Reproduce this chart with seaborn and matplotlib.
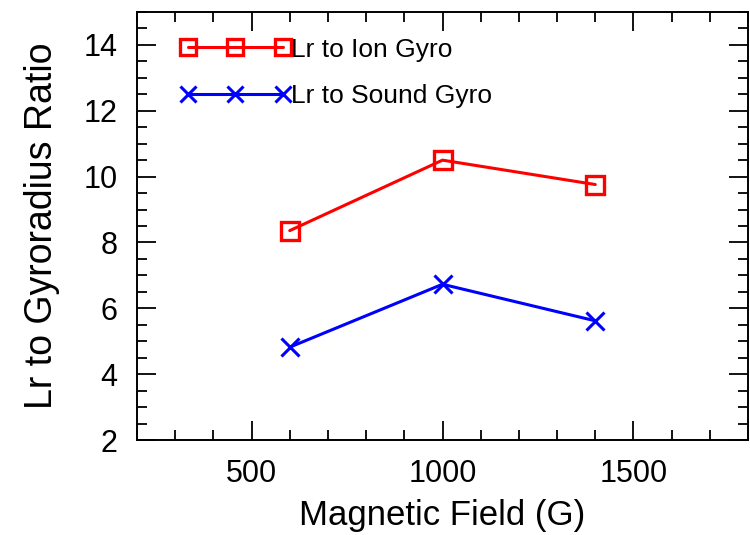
import matplotlib
matplotlib.use("Agg")
import matplotlib.pyplot as plt
import seaborn as sns
import pandas as pd
from matplotlib.ticker import MultipleLocator

# values
field = [600, 1000, 1400]
ion_ratio = [8.36, 10.5, 9.76]
sound_ratio = [4.82, 6.73, 5.62]

sns.set_style("ticks")
plt.rcParams['font.family'] = ['Liberation Sans', 'DejaVu Sans']
plt.rcParams['text.color'] = 'black'
plt.rcParams['axes.labelcolor'] = 'black'

df = pd.DataFrame({
    'field': field * 2,
    'ratio': ion_ratio + sound_ratio,
    'series': ['Lr to Ion Gyro'] * 3 + ['Lr to Sound Gyro'] * 3,
})

fig = plt.figure(figsize=(7.5, 5.35), dpi=100)
ax = fig.add_axes([137 / 750, 1 - 440 / 535, 611 / 750, 428 / 535])

ion = df[df['series'] == 'Lr to Ion Gyro']
sound = df[df['series'] == 'Lr to Sound Gyro']
sns.lineplot(data=ion, x='field', y='ratio', ax=ax, color='#ff0000', lw=2.2,
             marker='s', markersize=13, markerfacecolor='none',
             markeredgecolor='#ff0000', markeredgewidth=2.4, label='Lr to Ion Gyro')
sns.lineplot(data=sound, x='field', y='ratio', ax=ax, color='#0000ff', lw=2.2,
             marker='x', markersize=13, markeredgewidth=2.2,
             markeredgecolor='#0000ff', label='Lr to Sound Gyro')

ax.set_xlim(200, 1800)
ax.set_ylim(2, 15)
ax.xaxis.set_major_locator(MultipleLocator(500))
ax.xaxis.set_minor_locator(MultipleLocator(100))
ax.yaxis.set_major_locator(MultipleLocator(2))
ax.yaxis.set_minor_locator(MultipleLocator(0.5))
ax.tick_params(which='both', direction='in', top=True, right=True,
               labelsize=22, colors='black', width=1.3)
ax.tick_params(which='major', length=14, pad=14)
ax.tick_params(which='minor', length=7)
for s in ax.spines.values():
    s.set_linewidth(1.4)
    s.set_color('black')

ax.set_xlabel('Magnetic Field (G)', fontsize=25, labelpad=7)
ax.set_ylabel('Lr to Gyroradius Ratio', fontsize=27, labelpad=17)

ax.legend(loc='upper left', frameon=False, fontsize=19, numpoints=3,
          handlelength=4.2, handletextpad=0.0, labelspacing=0.85,
          borderpad=0, borderaxespad=0, markerscale=0.9,
          bbox_to_anchor=(0.07, 0.94))

fig.savefig('out.png', dpi=100)
